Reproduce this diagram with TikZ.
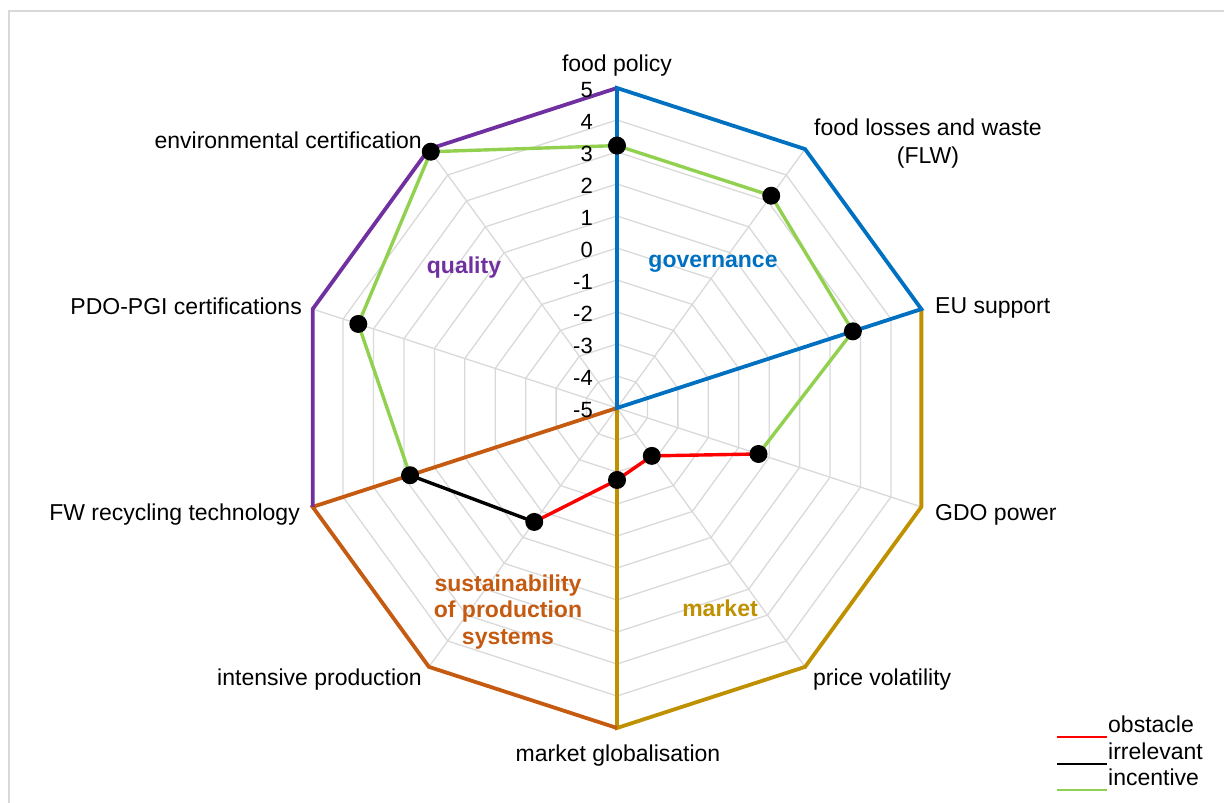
\documentclass[tikz,border=0pt]{standalone}
\usepackage{fontspec}
\setmainfont{Liberation Sans}
\definecolor{gridgray}{HTML}{D9D9D9}
\definecolor{framegray}{HTML}{D9D9D9}
\definecolor{govblue}{HTML}{0070C0}
\definecolor{qualpurple}{HTML}{7030A0}
\definecolor{sustorange}{HTML}{C55A11}
\definecolor{mktgold}{HTML}{BF9000}
\definecolor{incgreen}{HTML}{92D050}
\definecolor{obsred}{HTML}{FF0000}
\begin{document}
\begin{tikzpicture}[x=1pt,y=1pt,
  lbl/.style={font=\fontsize{23}{28}\selectfont, inner sep=0pt},
  numlbl/.style={font=\fontsize{22}{26}\selectfont, inner sep=0pt, anchor=mid east},
  grplbl/.style={font=\fontsize{23}{26.5}\selectfont\bfseries, inner sep=0pt, align=center},
  gridline/.style={draw=gridgray, line width=1.3pt},
  grpline/.style={line width=3.8pt},
  dataline/.style={line width=3.4pt},
  marker/.style={circle, fill=black, minimum size=18pt, inner sep=0pt},
  legline/.style={line width=1.6pt}]
\useasboundingbox (0,0) rectangle (1224,803);
% frame
\draw[framegray, line width=1.6pt] (9,-20) -- (9,792) -- (1240,792);
\coordinate (C) at (617,395);
% outer vertices
\foreach \k in {0,...,9} {
  \path (C) ++ ({90-36*\k}:320) coordinate (V\k);
}
% grid decagons
\begin{scope}[shift={(617,395)}]
\foreach \r in {32,64,...,320} {
  \draw[gridline] (90:\r) -- (54:\r) -- (18:\r) -- (-18:\r) -- (-54:\r) -- (-90:\r) -- (-126:\r) -- (-162:\r) -- (162:\r) -- (126:\r) -- cycle;
}
\end{scope}
\foreach \k in {0,...,9} { \draw[gridline] (C) -- (V\k); }
% group outlines
\draw[grpline, mktgold] (C) -- (V5) -- (V4) -- (V3) -- (V2);
\draw[grpline, sustorange] (C) -- (V7) -- (V6) -- (V5);
\draw[grpline, qualpurple] (V0) -- (V9) -- (V8) -- (V7);
\draw[grpline, govblue] (C) -- (V0) -- (V1) -- (V2) -- cycle;
% data points
\path (C) ++ (90:262.4) coordinate (P0);
\path (C) ++ (54:262.4) coordinate (P1);
\path (C) ++ (18:248) coordinate (P2);
\path (C) ++ (-18:148.8) coordinate (P3);
\path (C) ++ (-54:59.2) coordinate (P4);
\path (C) ++ (-90:72) coordinate (P5);
\path (C) ++ (-126:140.8) coordinate (P6);
\path (C) ++ (-162:217.6) coordinate (P7);
\path (C) ++ (162:272) coordinate (P8);
\path (C) ++ (126:316.8) coordinate (P9);
\draw[dataline, incgreen] (P7) -- (P8) -- (P9) -- (P0) -- (P1) -- (P2) -- (P3);
\draw[dataline, obsred] (P3) -- (P4) -- (P5) -- (P6);
\draw[dataline, black] (P6) -- (P7);
\foreach \k in {0,...,9} { \node[marker] (M\k) at (P\k) {}; }
% scale numbers
\foreach \v [count=\i from 0] in {-5,-4,-3,-2,-1,0,1,2,3,4,5} {
  \node[numlbl] (N\i) at (593, {395+32*\i-7}) {\v};
}
% axis labels
\node[lbl, anchor=mid] (L0) at (617,734) {food policy};
\node[lbl, align=center] (L1) at (928,659) {food losses and waste\\(FLW)};
\node[lbl, anchor=mid west] (L2) at (935,492) {EU support};
\node[lbl, anchor=mid west] (L3) at (935,285) {GDO power};
\node[lbl, anchor=mid west] (L4) at (813,120) {price volatility};
\node[lbl, anchor=mid] (L5) at (618,44) {market globalisation};
\node[lbl, anchor=mid east] (L6) at (422,120) {intensive production};
\node[lbl, anchor=mid east] (L7) at (300,285) {FW recycling technology};
\node[lbl, anchor=mid east] (L8) at (302,491) {PDO-PGI certifications};
\node[lbl, anchor=mid east] (L9) at (422,657) {environmental certification};
% group labels
\node[grplbl, text=govblue] (G1) at (713,539) {governance};
\node[grplbl, text=qualpurple] (G2) at (464,535) {quality};
\node[grplbl, text=sustorange] (G3) at (508,191) {sustainability\\of production\\systems};
\node[grplbl, text=mktgold] (G4) at (720,195) {market};
% legend
\coordinate (A1) at (1057,66); \coordinate (B1) at (1107,66);
\coordinate (A2) at (1057,39); \coordinate (B2) at (1107,39);
\coordinate (A3) at (1057,13); \coordinate (B3) at (1107,13);
\draw[legline, obsred] (A1) -- (B1);
\draw[legline, black] (A2) -- (B2);
\draw[legline, incgreen] (A3) -- (B3);
\node[lbl, anchor=base west] (T1) at (1108,70) {obstacle};
\node[lbl, anchor=base west] (T2) at (1108,43) {irrelevant};
\node[lbl, anchor=base west] (T3) at (1108,17) {incentive};
\end{tikzpicture}
\end{document}
